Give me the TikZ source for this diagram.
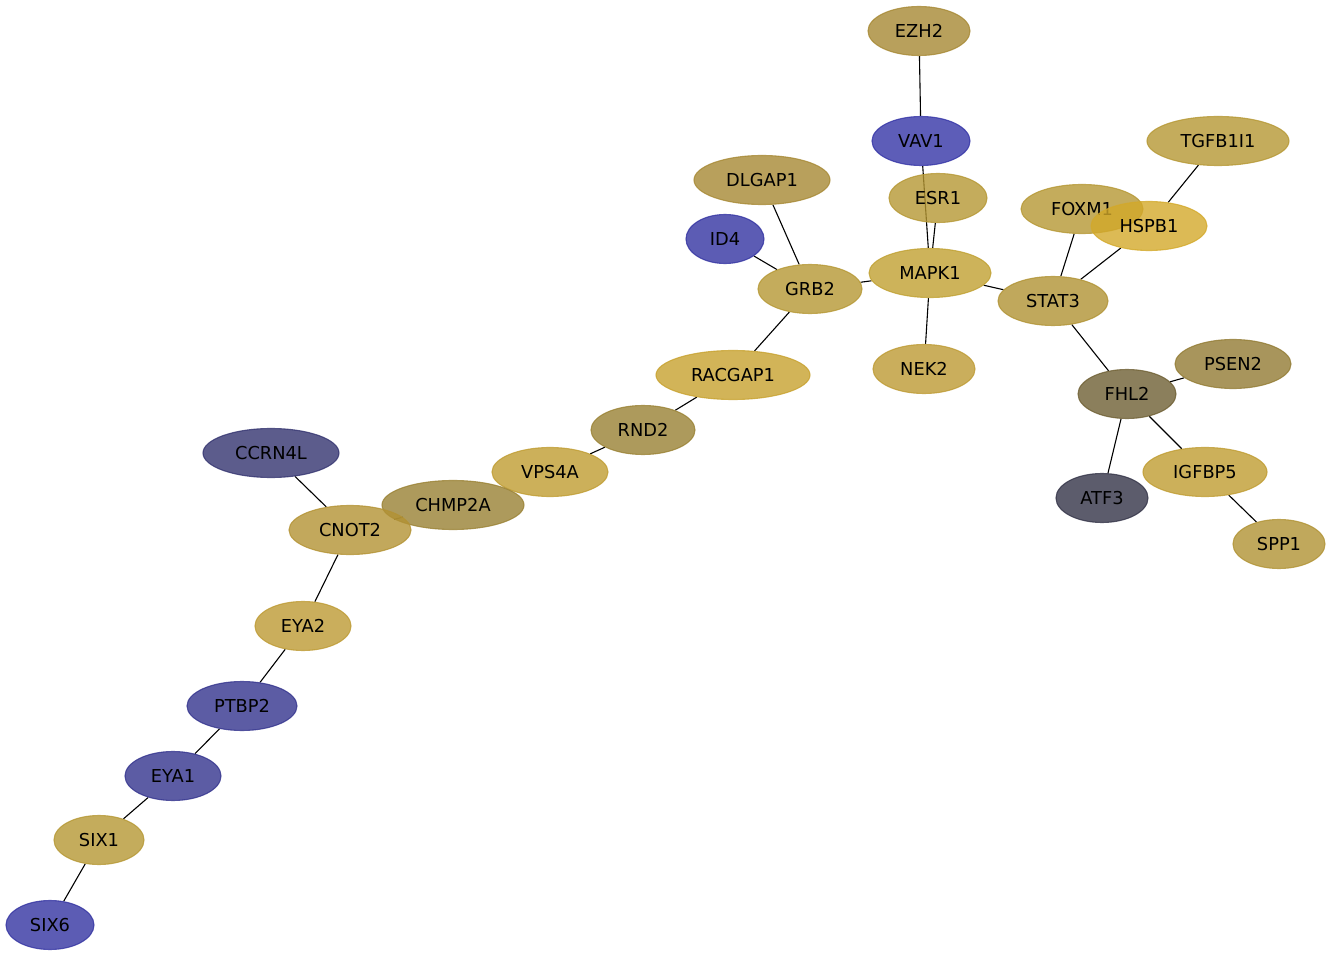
\documentclass[tikz,border=0pt]{standalone}
\usepackage{fontspec}
\setmainfont{DejaVu Sans}
\usetikzlibrary{shapes.geometric}
\pgfdeclarelayer{edgelayer}
\pgfsetlayers{edgelayer,main}
\definecolor{cBlue}{RGB}{52,52,166}
\definecolor{cBlueB}{RGB}{51,51,161}
\definecolor{cBlueC}{RGB}{51,51,141}
\definecolor{cSlate}{RGB}{51,51,111}
\definecolor{cGrey}{RGB}{51,51,71}
\definecolor{cOlive}{RGB}{110,95,51}
\definecolor{cKhakiA}{RGB}{146,123,51}
\definecolor{cKhakiB}{RGB}{153,129,51}
\definecolor{cKhakiC}{RGB}{166,136,51}
\definecolor{cGoldA}{RGB}{181,151,51}
\definecolor{cGoldB}{RGB}{192,160,49}
\definecolor{cGoldC}{RGB}{176,146,51}
\definecolor{cGoldD}{RGB}{189,154,51}
\definecolor{cGoldE}{RGB}{211,169,42}
\definecolor{cGoldF}{RGB}{199,161,46}
\definecolor{cGoldG}{RGB}{191,156,49}
\definecolor{cGoldH}{RGB}{179,146,51}
\tikzset{
  gene/.style={ellipse, inner sep=0pt, minimum height=49pt, fill opacity=0.8, draw opacity=0.8, text opacity=1, line width=1.1pt, font=\fontsize{17.8}{20}\selectfont, text=black},
  gc/.style={gene, fill=#1, draw=#1},
  link/.style={line width=1.1pt, black}
}
\begin{document}
\begin{tikzpicture}[x=1pt,y=-1pt]
\useasboundingbox (0,0) rectangle (1334,957);
% nodes
\node[gc=cKhakiC, minimum width=102pt] (EZH2) at (919,31) {EZH2};
\node[gc=cBlue, minimum width=98pt] (VAV1) at (921,141) {VAV1};
\node[gc=cGoldA, minimum width=142pt] (TGFB1I1) at (1218,141) {TGFB1I1};
\node[gc=cKhakiC, minimum width=136pt] (DLGAP1) at (762,180) {DLGAP1};
\node[gc=cGoldA, minimum width=98pt] (ESR1) at (938,198) {ESR1};
\node[gc=cGoldA, minimum width=122pt] (FOXM1) at (1082,209) {FOXM1};
\node[gc=cGoldE, minimum width=116pt] (HSPB1) at (1149,226) {HSPB1};
\node[gc=cBlueB, minimum width=78pt] (ID4) at (725,239) {ID4};
\node[gc=cGoldA, minimum width=104pt] (GRB2) at (810,289) {GRB2};
\node[gc=cGoldB, minimum width=122pt] (MAPK1) at (930,273) {MAPK1};
\node[gc=cGoldC, minimum width=110pt] (STAT3) at (1053,301) {STAT3};
\node[gc=cGoldD, minimum width=102pt] (NEK2) at (924,369) {NEK2};
\node[gc=cKhakiA, minimum width=116pt] (PSEN2) at (1233,364) {PSEN2};
\node[gc=cGoldF, minimum width=154pt] (RACGAP1) at (733,375) {RACGAP1};
\node[gc=cOlive, minimum width=98pt] (FHL2) at (1127,394) {FHL2};
\node[gc=cKhakiB, minimum width=104pt] (RND2) at (643,430) {RND2};
\node[gc=cSlate, minimum width=136pt] (CCRN4L) at (271,453) {CCRN4L};
\node[gc=cGoldG, minimum width=116pt] (VPS4A) at (550,472) {VPS4A};
\node[gc=cGoldG, minimum width=124pt] (IGFBP5) at (1205,472) {IGFBP5};
\node[gc=cGrey, minimum width=92pt] (ATF3) at (1102,498) {ATF3};
\node[gc=cKhakiB, minimum width=142pt] (CHMP2A) at (453,505) {CHMP2A};
\node[gc=cGoldH, minimum width=122pt] (CNOT2) at (350,530) {CNOT2};
\node[gc=cGoldC, minimum width=92pt] (SPP1) at (1279,544) {SPP1};
\node[gc=cGoldD, minimum width=96pt] (EYA2) at (303,626) {EYA2};
\node[gc=cBlueC, minimum width=110pt] (PTBP2) at (242,706) {PTBP2};
\node[gc=cBlueC, minimum width=96pt] (EYA1) at (173,776) {EYA1};
\node[gc=cGoldA, minimum width=90pt] (SIX1) at (99,840) {SIX1};
\node[gc=cBlueB, minimum width=88pt] (SIX6) at (50,925) {SIX6};
% edges, behind the nodes
\begin{pgfonlayer}{edgelayer}
\draw[link] (EZH2) -- (VAV1);
\draw[link] (VAV1) -- (MAPK1);
\draw[link] (ESR1) -- (MAPK1);
\draw[link] (DLGAP1) -- (GRB2);
\draw[link] (ID4) -- (GRB2);
\draw[link] (GRB2) -- (MAPK1);
\draw[link] (GRB2) -- (RACGAP1);
\draw[link] (MAPK1) -- (STAT3);
\draw[link] (MAPK1) -- (NEK2);
\draw[link] (STAT3) -- (FOXM1);
\draw[link] (STAT3) -- (HSPB1);
\draw[link] (HSPB1) -- (TGFB1I1);
\draw[link] (STAT3) -- (FHL2);
\draw[link] (FHL2) -- (PSEN2);
\draw[link] (FHL2) -- (ATF3);
\draw[link] (FHL2) -- (IGFBP5);
\draw[link] (IGFBP5) -- (SPP1);
\draw[link] (RACGAP1) -- (RND2);
\draw[link] (RND2) -- (VPS4A);
\draw[link] (VPS4A) -- (CHMP2A);
\draw[link] (CHMP2A) -- (CNOT2);
\draw[link] (CCRN4L) -- (CNOT2);
\draw[link] (CNOT2) -- (EYA2);
\draw[link] (EYA2) -- (PTBP2);
\draw[link] (PTBP2) -- (EYA1);
\draw[link] (EYA1) -- (SIX1);
\draw[link] (SIX1) -- (SIX6);
\end{pgfonlayer}
\end{tikzpicture}
\end{document}
